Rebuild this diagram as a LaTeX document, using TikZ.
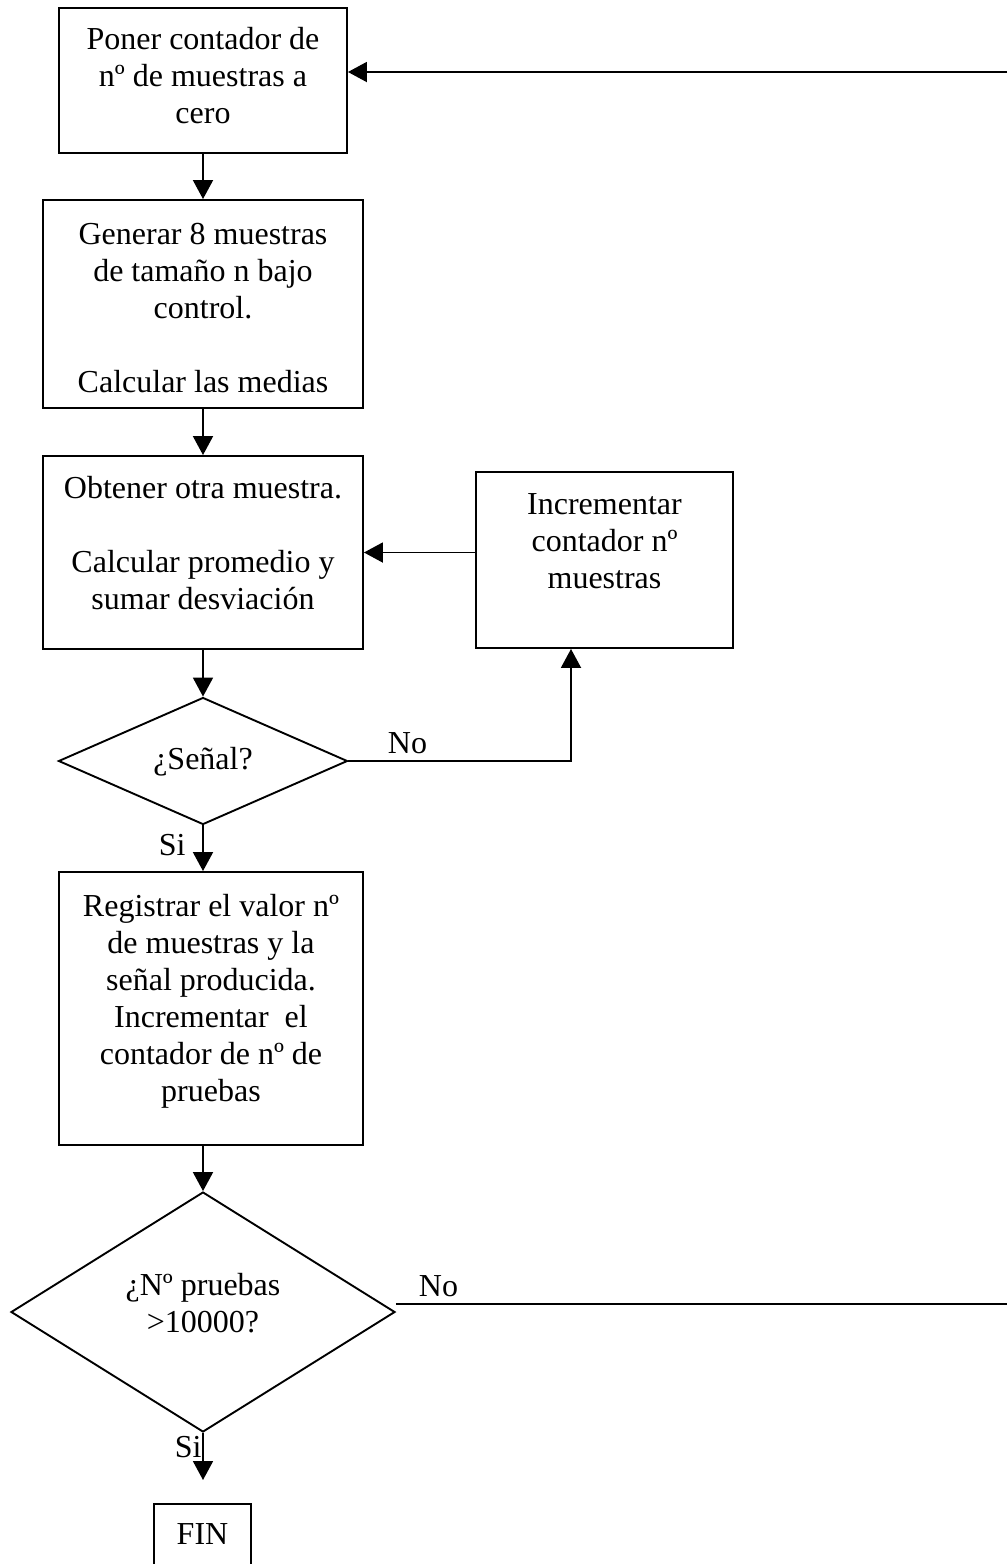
\documentclass[tikz,border=0pt]{standalone}
\usepackage{fontspec}
\setmainfont{Liberation Serif}
\usetikzlibrary{shapes.geometric,arrows.meta}
\begin{document}
\begin{tikzpicture}[x=1pt,y=-1pt,
  line width=1.9pt,
  box/.style={draw, rectangle, inner sep=0pt},
  decision/.style={draw, diamond, inner sep=0pt, aspect=2},
  txt/.style={inner sep=0pt, align=center, anchor=north, font=\fontsize{32}{37}\selectfont},
  lbl/.style={inner sep=0pt, anchor=north west, font=\fontsize{32}{37}\selectfont},
  arr/.style={-{Triangle[length=19pt,width=20pt]}}]
\clip (0,0) rectangle (1007,1564);
\useasboundingbox (0,0) rectangle (1007,1564);

% process boxes
\node[box, minimum width=288pt, minimum height=145pt] (b1) at (203,80.5) {};
\node[txt] (t1) at (203,26.5) {Poner contador de\\nº de muestras a\\cero};

\node[box, minimum width=320pt, minimum height=208pt] (b2) at (203,304) {};
\node[txt] (t2) at (203,222) {Generar 8 muestras\\de tamaño n bajo\\control.\\[37pt]Calcular las medias};

\node[box, minimum width=320pt, minimum height=193pt] (b3) at (203,552.5) {};
\node[txt] (t3) at (203,475) {Obtener otra muestra.\\[37pt]Calcular promedio y\\sumar desviación};

\node[box, minimum width=257pt, minimum height=176pt] (b4) at (604.5,560) {};
\node[txt] (t4) at (604.5,493) {Incrementar\\contador nº\\muestras};

% first decision
\node[decision, minimum width=289pt, minimum height=127pt] (d1) at (203,761) {};
\node[txt] (t5) at (203,746) {¿Señal?};

\node[box, minimum width=304pt, minimum height=273pt] (b5) at (211,1008.5) {};
\node[txt] (t6) at (211,893) {Registrar el valor nº\\de muestras y la\\señal producida.\\Incrementar\ \ el\\contador de nº de\\pruebas};

% second decision
\node[decision, minimum width=384pt, minimum height=240pt] (d2) at (203,1312) {};
\node[txt] (t7) at (203,1272) {¿Nº pruebas\\>10000?};

% end box
\node[box, minimum width=97pt, minimum height=76pt] (fin) at (202.5,1542) {};
\node[txt] (t8) at (202.5,1523) {FIN};

% free ends of the loop-back lines
\coordinate (r1) at (1007,72);
\coordinate (r2) at (1007,1304);
\coordinate (k1) at (571,761);
\coordinate (e1) at (203,1480);

% connectors
\draw[arr] (r1) -- (r1 -| b1.east);
\draw[arr] (b1.south) -- (b2.north);
\draw[arr] (b2.south) -- (b3.north);
\draw[arr] (b3.south) -- (d1.north);
\draw[arr] (b4.west |- b3.east) -- (b3.east);
\draw[arr] (d1.east) -- (k1) -- (k1 |- b4.south);
\draw[arr] (d1.south) -- (d1.south |- b5.north);
\draw[arr] (b5.south -| d2.north) -- (d2.north);
\draw[arr] (d2.south) -- (e1);
\draw (d2.east |- r2) -- (r2);

% branch labels
\node[lbl] (n1) at (387,732) {No};
\node[lbl] (s1) at (158,833) {Si};
\node[lbl] (s2) at (174,1435) {Si};
\node[lbl] (n2) at (418,1275) {No};
\end{tikzpicture}
\end{document}
